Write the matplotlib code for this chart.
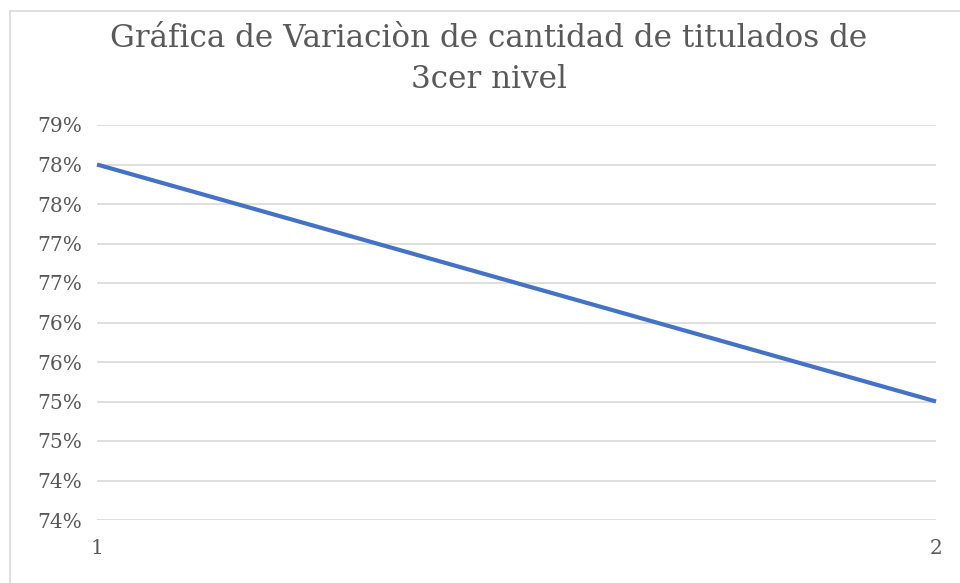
import matplotlib
matplotlib.use("Agg")
import matplotlib.pyplot as plt
from matplotlib.lines import Line2D
from matplotlib.ticker import FuncFormatter, MultipleLocator
import math

x_values = [1, 2]
y_values = [0.78, 0.75]
title = "Gráfica de Variaciòn de cantidad de titulados de\n3cer nivel"
x_tick_labels = ["1", "2"]

plt.rcParams["font.family"] = ["DejaVu Serif"]

W, H = 960, 583
fig = plt.figure(figsize=(W / 100, H / 100), dpi=100)
fig.patch.set_facecolor("white")

ax = fig.add_axes([97 / W, 1 - 520 / H, (936 - 97) / W, (520 - 125) / H])
ax.plot(x_values, y_values, color="#4472C4", linewidth=3.0, solid_capstyle="butt", clip_on=False)
ax.set_xlim(1, 2)
ax.set_ylim(0.735, 0.785)
ax.yaxis.set_major_locator(MultipleLocator(0.005))

def excel_round(v, pos):
    p = v * 100
    r = math.floor(p + 0.5 + 1e-9)
    return f"{r}%"

ax.yaxis.set_major_formatter(FuncFormatter(excel_round))
ax.set_xticks(x_values)
ax.set_xticklabels(x_tick_labels)
ax.grid(axis="y", color="#D9D9D9", linewidth=1.2)
ax.set_axisbelow(True)
for s in ax.spines.values():
    s.set_visible(False)
ax.tick_params(axis="both", length=0, colors="#595959", labelsize=14.5)
ax.tick_params(axis="y", pad=10.5)
ax.tick_params(axis="x", pad=14)

fig.text(0.5 + 9 / W, 1 - 59 / H, title, ha="center", va="center", fontsize=22.3,
         color="#595959", family="DejaVu Serif", linespacing=1.38)

# chart area border (partially visible)
fig.add_artist(Line2D([10 / W, 10 / W], [0, 1 - 11 / H], color="#D9D9D9", linewidth=1.2, transform=fig.transFigure))
fig.add_artist(Line2D([10 / W, 1], [1 - 11 / H, 1 - 11 / H], color="#D9D9D9", linewidth=1.2, transform=fig.transFigure))

fig.savefig("out.png", dpi=100)
